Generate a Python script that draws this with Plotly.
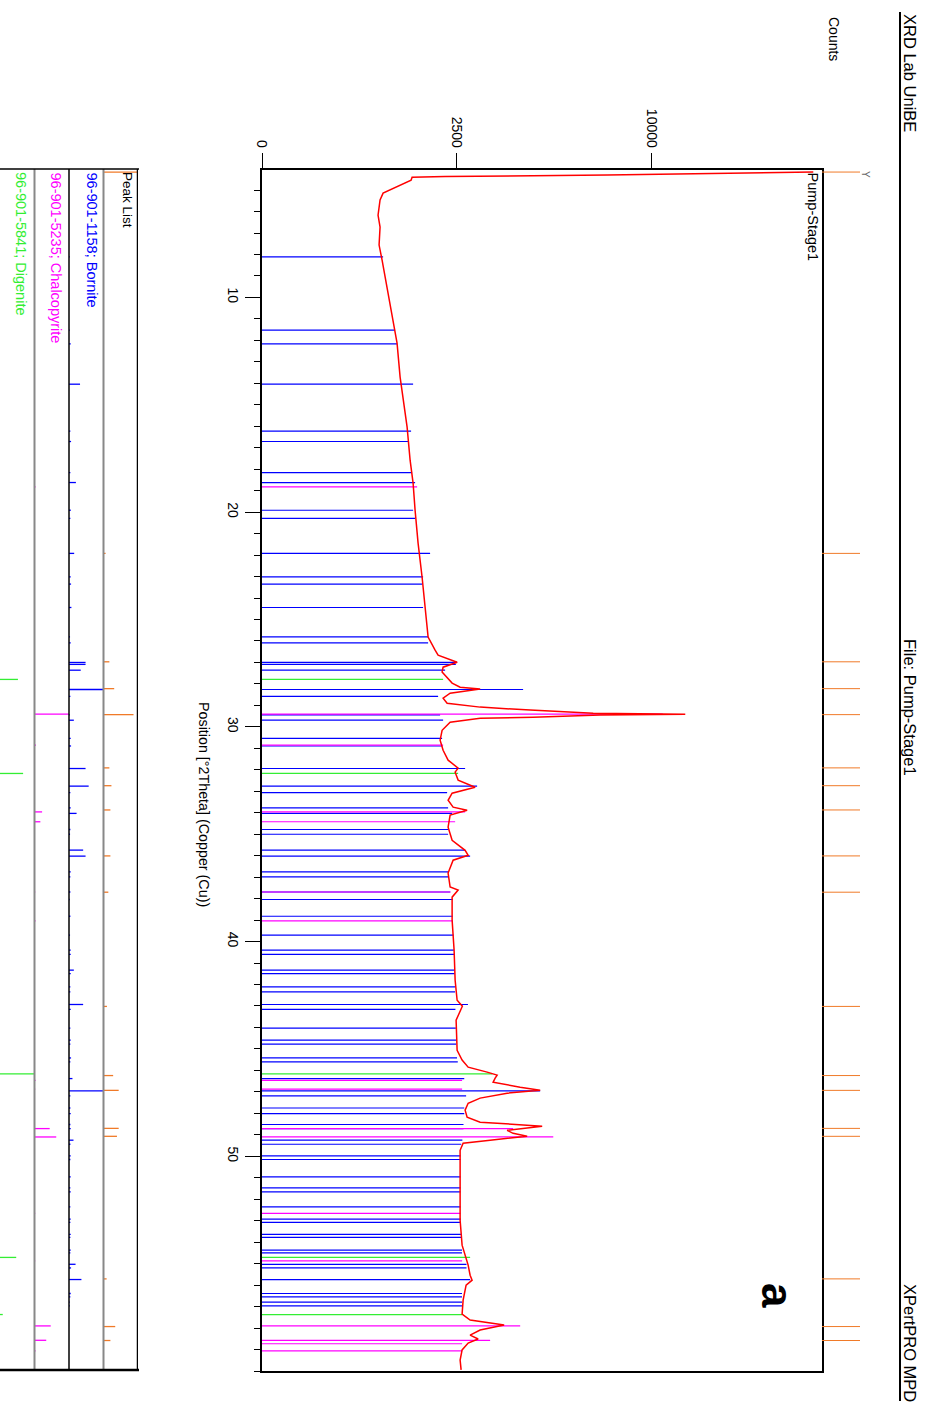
import numpy as np
import plotly.graph_objects as go

W, H = 926, 1405
FONT = "Liberation Sans, Arial, sans-serif"

# ---------------- observed scan (2theta, counts) ----------------
theta_obs = [4.16, 4.30, 4.37, 4.40, 4.54, 4.77, 5.00, 5.14, 5.46, 6.17, 6.72, 7.56, 8.26,
             9.05, 9.80, 11.06, 12.13, 13.71, 14.78, 16.04, 17.58, 18.65, 19.91, 21.44,
             23.03, 24.56, 25.82, 26.43, 26.66, 26.99, 27.22, 27.45, 27.69, 27.96, 28.15,
             28.24, 28.43, 28.66, 28.90, 29.08, 29.22, 29.36, 29.41, 29.45, 29.55, 29.60,
             29.78, 30.16, 30.62, 31.09, 31.55, 31.92, 32.11, 32.48, 32.81, 33.09, 33.42,
             33.74, 33.88, 34.11, 34.67, 35.28, 35.75, 35.98, 36.21, 36.81, 37.46, 37.60,
             37.93, 39.00, 40.40, 41.80, 42.73, 43.01, 43.66, 44.59, 45.06, 45.52, 45.85,
             46.08, 46.22, 46.36, 46.55, 46.78, 46.92, 47.06, 47.29, 47.53, 47.85, 48.18,
             48.41, 48.60, 48.79, 48.93, 49.07, 49.25, 49.39, 49.72, 50.79, 51.91, 52.98,
             54.14, 55.07, 55.54, 55.77, 56.00, 56.70, 57.35, 57.63, 57.86, 58.09, 58.33,
             58.51, 58.70, 59.02, 59.49, 59.95]
counts_obs = [20060, 7867, 2213, 1487, 1467, 1259, 1083, 968, 920, 889, 920, 905, 952,
              1000, 1049, 1134, 1204, 1259, 1314, 1390, 1448, 1507, 1547, 1608,
              1692, 1756, 1821, 1978, 2047, 2513, 2165, 2141, 2262, 2386, 2591,
              3141, 2336, 2165, 2262, 3141, 4747, 7240, 11825, 7550, 4853, 3141,
              2336, 2141, 2094, 2165, 2286, 2539, 2462, 2539, 2998, 2386, 2286,
              2411, 2777, 2336, 2286, 2386, 2723, 2805, 2411, 2286, 2336, 2539,
              2386, 2386, 2436, 2462, 2513, 2650, 2487, 2513, 2513, 2643, 2805,
              3346, 3650, 3588, 3526, 4399, 5107, 3967, 3141, 2805, 2723, 2777,
              3141, 5181, 3967, 4163, 4641, 3435, 2670, 2591, 2591, 2591, 2591,
              2643, 2805, 2859, 2914, 2750, 2670, 2643, 2859, 3870, 3141, 2859,
              3083, 2805, 2643, 2591, 2617]

# ---------------- reference patterns ----------------
bornite_pos = [8.11, 11.52, 12.16, 14.04, 16.23, 16.71, 18.16, 18.62, 19.91, 20.29, 21.92,
               23.01, 23.35, 24.44, 25.81, 26.09, 27.00, 27.09, 27.36, 28.26, 28.58, 29.44,
               29.69, 30.54, 30.89, 31.94, 32.76, 33.06, 33.77, 34.03, 34.78, 35.00, 35.74,
               36.02, 36.75, 36.99, 37.69, 38.04, 38.82, 39.70, 40.40, 40.60, 41.33, 41.49,
               42.11, 42.34, 42.93, 43.16, 44.03, 44.59, 44.78, 45.42, 45.60, 46.38, 46.95,
               47.19, 47.75, 48.01, 48.52, 48.71, 49.25, 49.44, 49.98, 50.15, 50.96, 51.47,
               51.66, 52.36, 52.93, 53.08, 53.64, 53.78, 54.37, 54.50, 55.03, 55.20, 55.74,
               56.39, 56.55, 56.79, 56.97]
bornite_h = [968, 1169, 1204, 1507, 1467, 1409, 1487, 1547, 1507, 1547, 1865,
             1713, 1692, 1713, 1821, 1821, 2513, 2480, 2213, 4500, 2047, 2094,
             2165, 2141, 2150, 2723, 3054, 2262, 2286, 2386, 2286, 2286, 2723,
             2859, 2286, 2286, 2336, 2400, 2400, 2420, 2430, 2440, 2450, 2450,
             2460, 2460, 2800, 2470, 2480, 2490, 2490, 2510, 2530, 2700, 5107,
             2750, 2700, 2700, 2680, 2680, 2650, 2620, 2600, 2600, 2600, 2600,
             2600, 2600, 2610, 2610, 2620, 2620, 2640, 2640, 2760, 2760, 2860,
             2640, 2640, 2640, 2640]
bornite_rel = [0.02, 0.02, 0.05, 0.32, 0.04, 0.06, 0.04, 0.20, 0.05, 0.04, 0.15,
               0.05, 0.06, 0.07, 0.03, 0.05, 0.48, 0.48, 0.34, 1.00, 0.04, 0.02,
               0.14, 0.05, 0.06, 0.48, 0.57, 0.04, 0.05, 0.22, 0.04, 0.03, 0.41,
               0.48, 0.05, 0.04, 0.04, 0.02, 0.04, 0.03, 0.05, 0.05, 0.14, 0.05,
               0.04, 0.04, 0.41, 0.05, 0.04, 0.05, 0.04, 0.06, 0.04, 0.10, 1.00,
               0.04, 0.04, 0.05, 0.04, 0.05, 0.13, 0.04, 0.05, 0.04, 0.05, 0.04,
               0.05, 0.04, 0.05, 0.04, 0.05, 0.04, 0.05, 0.04, 0.19, 0.06, 0.36,
               0.05, 0.04, 0.02, 0.02]

chalco_pos = [18.82, 29.41, 30.85, 33.96, 34.42, 37.69, 39.04, 46.46, 46.87, 48.71, 49.10,
              52.66, 54.87, 57.90, 58.57, 58.73, 59.06]
chalco_h = [1588, 10600, 2165, 2723, 2462, 2350, 2400, 2643, 2643, 4163, 5600,
            2600, 2643, 4400, 3435, 2643, 2643]
chalco_rel = [0.03, 1.00, 0.04, 0.22, 0.17, 0.02, 0.03, 0.03, 0.02, 0.44, 0.63,
              0.02, 0.02, 0.47, 0.34, 0.01, 0.03]

digenite_pos = [27.79, 32.17, 46.16, 54.71, 57.37]
digenite_h = [2165, 2539, 3500, 2859, 2643]
digenite_rel = [0.52, 0.67, 1.00, 0.47, 0.08]

peak_pos = [4.16, 21.92, 26.97, 28.22, 29.43, 31.91, 32.74, 33.87, 36.01, 37.70, 43.02,
            46.24, 46.93, 48.70, 49.07, 55.71, 57.93, 58.58]
peak_rel = [1.00, 0.06, 0.17, 0.31, 0.87, 0.17, 0.23, 0.20, 0.20, 0.14, 0.10,
            0.28, 0.44, 0.44, 0.39, 0.09, 0.34, 0.20]

count_ticks = [0, 2500, 10000]
theta_ticks = [10, 20, 30, 40, 50]
count_max = 20700
theta_range = [4.05, 60.0]

BLUE, MAG, GREEN, ORANGE, RED = "#0000FF", "#FF00FF", "#33EE33", "#F07A28", "#FF0000"


def segs(pos, x0, x1):
    xs, ys = [], []
    for p, a, b in zip(pos, x0, x1):
        xs += [a, b, None]
        ys += [p, p, None]
    return xs, ys


def px(x):
    return x / W


def py(y):
    return 1 - y / H


fig = go.Figure()

# main plot sticks (sqrt intensity scale)
for pos, hh, col in [(bornite_pos, bornite_h, BLUE), (chalco_pos, chalco_h, MAG),
                     (digenite_pos, digenite_h, GREEN)]:
    xs, ys = segs(pos, [0] * len(pos), list(np.sqrt(hh)))
    fig.add_trace(go.Scatter(x=xs, y=ys, mode="lines", line=dict(color=col, width=1.2),
                             xaxis="x", yaxis="y", hoverinfo="skip", showlegend=False))

# observed scan
fig.add_trace(go.Scatter(x=np.sqrt(counts_obs), y=theta_obs, mode="lines",
                         line=dict(color=RED, width=1.5), xaxis="x", yaxis="y",
                         showlegend=False))

# side panel sticks: baselines 0 (digenite), 1 (chalcopyrite), 2 (bornite), 3 (peak list)
for pos, rel, base, col in [(digenite_pos, digenite_rel, 0, GREEN),
                            (chalco_pos, chalco_rel, 1, MAG),
                            (bornite_pos, bornite_rel, 2, BLUE),
                            (peak_pos, peak_rel, 3, ORANGE)]:
    xs, ys = segs(pos, [base] * len(pos), [base + r for r in rel])
    fig.add_trace(go.Scatter(x=xs, y=ys, mode="lines", line=dict(color=col, width=1.3),
                             xaxis="x2", yaxis="y", hoverinfo="skip", showlegend=False))

# peak markers right of the main plot
xs, ys = segs(peak_pos, [0] * len(peak_pos), [1] * len(peak_pos))
fig.add_trace(go.Scatter(x=xs, y=ys, mode="lines", line=dict(color=ORANGE, width=1),
                         xaxis="x3", yaxis="y", hoverinfo="skip", showlegend=False))

ydom = [py(1371), py(169.7)]
tickfont = dict(family=FONT, size=14, color="black")

fig.update_layout(
    width=W, height=H, margin=dict(l=0, r=0, t=0, b=0, pad=0, autoexpand=False),
    paper_bgcolor="white", plot_bgcolor="white", showlegend=False,
    xaxis=dict(domain=[px(262), px(822)], range=[0, np.sqrt(count_max)], side="top",
               anchor="y", tickmode="array", tickvals=list(np.sqrt(count_ticks)),
               ticktext=[str(v) for v in count_ticks], tickangle=90, ticks="outside",
               ticklen=15, tickcolor="black", showgrid=False, zeroline=False,
               showline=True, mirror=True, linecolor="black", linewidth=2,
               tickfont=tickfont, automargin=False),
    yaxis=dict(domain=ydom, range=[theta_range[1], theta_range[0]], anchor="x",
               tickmode="array", tickvals=theta_ticks,
               ticktext=[str(v) for v in theta_ticks], ticks="outside", ticklen=15,
               tickcolor="black", tickangle=90, showgrid=False, zeroline=False,
               showline=True, mirror=True, linecolor="black", linewidth=2,
               tickfont=tickfont, automargin=False,
               minor=dict(tickmode="linear", tick0=0, dtick=1, ticks="outside",
                          ticklen=6, tickcolor="black", showgrid=False)),
    xaxis2=dict(domain=[0, px(138)], range=[0, 4], anchor="y", visible=False,
                automargin=False),
    xaxis3=dict(domain=[px(822), px(860)], range=[0, 1], anchor="y", visible=False,
                automargin=False),
)

shapes = []
# side panel frame
for xv, col, wd in [(1, "#888888", 2), (2, "black", 1.5), (3, "#888888", 2), (4, "black", 2.5)]:
    shapes.append(dict(type="line", xref="x2", yref="paper", x0=xv, x1=xv,
                       y0=py(1370), y1=py(169), line=dict(color=col, width=wd)))
for yv, wd in [(169, 1.5), (1370, 2.5)]:
    shapes.append(dict(type="line", xref="paper", yref="paper", x0=0, x1=px(139),
                       y0=py(yv), y1=py(yv), line=dict(color="black", width=wd)))
# header underline
shapes.append(dict(type="line", xref="paper", yref="paper", x0=px(900), x1=px(900),
                   y0=py(12), y1=py(1401), line=dict(color="black", width=2)))
fig.update_layout(shapes=shapes)


def ann(text, x, y, size, xanchor="center", yanchor="middle", color="black",
        family=FONT):
    fig.add_annotation(text=text, x=px(x), y=py(y), xref="paper", yref="paper",
                       xanchor=xanchor, yanchor=yanchor, textangle=90, showarrow=False,
                       font=dict(family=family, size=size, color=color))


ann("XRD Lab UniBE", 910, 12, 16.5, yanchor="top")
ann("File: Pump-Stage1", 910, 707, 16.5)
ann("XPertPRO MPD", 910, 1282, 16.5, yanchor="top")
ann("Counts", 834, 15, 14, yanchor="top")
ann("Pump-Stage1", 813, 170, 14.5, yanchor="top")
ann("Position [°2Theta] (Copper (Cu))", 204, 804, 14.3)
ann("Peak List", 128, 170, 13.5, yanchor="top")
ann("96-901-1158; Bornite", 92, 170, 14.5, yanchor="top", color=BLUE)
ann("96-901-5235; Chalcopyrite", 56, 170, 14.5, yanchor="top", color=MAG)
ann("96-901-5841; Digenite", 21, 170, 14.5, yanchor="top", color=GREEN)
ann("Y", 866, 174, 10, color="#666666")
ann("<b>a</b>", 778, 1295, 44)

fig.write_html("out.html")
